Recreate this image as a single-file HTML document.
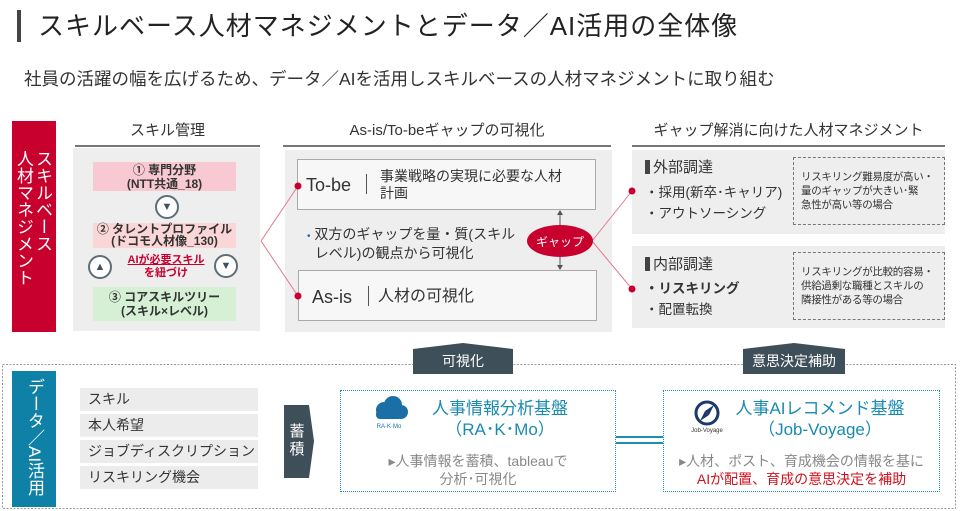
<!DOCTYPE html>
<html><head><meta charset="utf-8"><style>
*{margin:0;padding:0;box-sizing:border-box}
body{width:962px;height:511px;background:#fff;position:relative;overflow:hidden;font-family:"Liberation Sans","Noto Sans CJK JP",sans-serif;color:#333}
.a{position:absolute}
.c{text-align:center}
.hd{font-size:15px;color:#333;text-align:center;line-height:18px}
.hl{height:2px;background:#777}
.gb{background:#eeeeee}
.pk{background:#f9c9d3;font-size:12px;line-height:14px;text-align:center;color:#333;font-weight:bold}
.circ{width:24px;height:24px;border-radius:50%;border:2px solid #5d6d78;background:#fff;display:flex;align-items:center;justify-content:center;font-size:11px;color:#3e5360}
.wb{background:#f7f7f7;border:1.5px solid #aaa}
.dash{border:1.5px dashed #777;font-size:10.5px;line-height:14px;color:#333;padding:12px 0 0 7px;white-space:nowrap;letter-spacing:-0.3px}
.strip{background:#ececec;font-size:14px;line-height:22px;padding-left:8px;color:#333}
.bb{border:1.5px dotted #1d8fb4}
</style></head><body>
<div class="a" style="left:17px;top:10px;width:4px;height:32px;background:#444"></div>
<div class="a" style="left:38px;top:10px;font-size:26px;line-height:32px;letter-spacing:1px;color:#222">スキルベース人材マネジメントとデータ／AI活用の全体像</div>
<div class="a" style="left:24px;top:68px;font-size:17.5px;line-height:22px;color:#333">社員の活躍の幅を広げるため、データ／AIを活用しスキルベースの人材マネジメントに取り組む</div>

<div class="a" style="left:12px;top:121px;width:44px;height:211px;background:#c8002e"></div>
<div class="a" style="left:12px;top:150px;width:44px;height:170px;color:#fff;font-size:17px;line-height:19px;writing-mode:vertical-rl;padding-right:4px">スキルベース<br>人材マネジメント</div>

<div class="a hd" style="left:75px;top:122px;width:185px">スキル管理</div>
<div class="a hl" style="left:75px;top:145px;width:185px"></div>
<div class="a gb" style="left:73px;top:148px;width:187px;height:183px"></div>
<div class="a pk" style="left:93px;top:162px;width:143px;height:29px;padding-top:1px">① 専門分野<br>(NTT共通_18)</div>
<div class="a circ" style="left:155px;top:195px">▼</div>
<div class="a pk" style="left:93px;top:223px;width:143px;height:25px;background:#fbd6d6;line-height:12px">② タレントプロファイル<br>(ドコモ人材像_130)</div>
<div class="a circ" style="left:88px;top:255px">▲</div>
<div class="a circ" style="left:214px;top:254px">▼</div>
<div class="a c" style="left:118px;top:254px;width:96px;font-size:11px;line-height:13px;color:#c8002e;font-weight:bold"><u>AIが必要スキル</u><br>を紐づけ</div>
<div class="a pk" style="left:93px;top:287px;width:143px;height:34px;background:#d6f0d6;padding-top:3px">③ コアスキルツリー<br>(スキル×レベル)</div>

<div class="a hd" style="left:283px;top:122px;width:328px">As-is/To-beギャップの可視化</div>
<div class="a hl" style="left:283px;top:145px;width:328px"></div>
<div class="a gb" style="left:285px;top:150px;width:327px;height:182px"></div>
<div class="a wb" style="left:297px;top:159px;width:299px;height:51px"></div>
<div class="a" style="left:306px;top:175px;font-size:18px;line-height:20px;color:#333">To-be</div>
<div class="a" style="left:366px;top:174px;width:1px;height:20px;background:#555"></div>
<div class="a" style="left:380px;top:168px;font-size:14px;line-height:17px;color:#333">事業戦略の実現に必要な人材<br>計画</div>
<div class="a" style="left:307px;top:226px;font-size:14px;line-height:17px;color:#333"><span style="color:#1d6fb4;font-size:10px">•</span> 双方のギャップを量・質(スキル<br>&nbsp;&nbsp;レベル)の観点から可視化</div>
<div class="a wb" style="left:298px;top:270px;width:299px;height:51px"></div>
<div class="a" style="left:312px;top:287px;font-size:18px;line-height:20px;color:#333">As-is</div>
<div class="a" style="left:368px;top:286px;width:1px;height:20px;background:#555"></div>
<div class="a" style="left:378px;top:288px;font-size:16px;line-height:18px;color:#333">人材の可視化</div>

<div class="a hd" style="left:632px;top:122px;width:313px">ギャップ解消に向けた人材マネジメント</div>
<div class="a hl" style="left:632px;top:145px;width:313px"></div>
<div class="a gb" style="left:632px;top:150px;width:313px;height:84px"></div>
<div class="a gb" style="left:632px;top:246px;width:313px;height:82px"></div>
<div class="a" style="left:645px;top:158px;font-size:15px;line-height:20px;color:#333"><span style="display:inline-block;width:5px;height:14px;background:#444;vertical-align:-2px;margin-right:3px"></span>外部調達</div>
<div class="a" style="left:645px;top:182px;font-size:13.5px;line-height:21px;color:#333">・採用(新卒･キャリア)<br>・アウトソーシング</div>
<div class="a dash" style="left:793px;top:157px;width:152px;height:68px">リスキリング難易度が高い・<br>量のギャップが大きい･緊<br>急性が高い等の場合</div>
<div class="a" style="left:645px;top:255px;font-size:15px;line-height:20px;color:#333"><span style="display:inline-block;width:5px;height:14px;background:#444;vertical-align:-2px;margin-right:3px"></span>内部調達</div>
<div class="a" style="left:645px;top:278px;font-size:13.5px;line-height:21px;color:#333"><b>・リスキリング</b><br>・配置転換</div>
<div class="a dash" style="left:793px;top:252px;width:152px;height:68px">リスキリングが比較的容易・<br>供給過剰な職種とスキルの<br>隣接性がある等の場合</div>

<svg class="a" style="left:0;top:0" width="962" height="511">
<g stroke="#e07a90" stroke-width="1" fill="none">
<line x1="261" y1="241" x2="298" y2="186"/><line x1="261" y1="241" x2="298" y2="296"/>
<line x1="592" y1="241" x2="632" y2="191"/><line x1="592" y1="241" x2="632" y2="289"/>
</g>
<line x1="560" y1="214" x2="560" y2="266" stroke="#555" stroke-width="1"/>
<polygon points="557,215 563,215 560,210" fill="#555"/><polygon points="557,265 563,265 560,270" fill="#555"/>
<circle cx="298" cy="186" r="3.5" fill="#c8002e"/><circle cx="298" cy="296" r="3.5" fill="#c8002e"/>
<circle cx="632" cy="191" r="3.5" fill="#c8002e"/><circle cx="632" cy="289" r="3.5" fill="#c8002e"/>
<ellipse cx="560" cy="241" rx="33" ry="16" fill="#c8002e"/>
<text x="560" y="246" fill="#fff" font-size="12" text-anchor="middle" font-family="Liberation Sans,Noto Sans CJK JP,sans-serif">ギャップ</text>
<rect x="2.5" y="364.5" width="953" height="144" fill="none" stroke="#999" stroke-dasharray="2,1.5"/>
<polygon points="413,374 413,349 463,343 513,349 513,374" fill="#3f4f5a"/>
<polygon points="743,374 743,349 794,343 845,349 845,374" fill="#3f4f5a"/>
<text x="463" y="366" fill="#fff" font-size="14" text-anchor="middle" font-family="Liberation Sans,Noto Sans CJK JP,sans-serif">可視化</text>
<text x="794" y="366" fill="#fff" font-size="14" text-anchor="middle" font-family="Liberation Sans,Noto Sans CJK JP,sans-serif">意思決定補助</text>
<polygon points="284,405 309,405 314,441 309,478 284,478" fill="#3f4f5a"/>
<text x="297" y="436" fill="#fff" font-size="15" text-anchor="middle" font-family="Liberation Sans,Noto Sans CJK JP,sans-serif">蓄</text>
<text x="297" y="454" fill="#fff" font-size="15" text-anchor="middle" font-family="Liberation Sans,Noto Sans CJK JP,sans-serif">積</text>
<line x1="616" y1="437" x2="663" y2="437" stroke="#1d8fb4" stroke-width="2"/>
<line x1="616" y1="443" x2="663" y2="443" stroke="#1d8fb4" stroke-width="2"/>
<g fill="#1a6fa6"><circle cx="384" cy="410" r="8"/><circle cx="393" cy="405" r="9"/><circle cx="401" cy="412" r="7"/><rect x="376" y="410" width="26" height="9" rx="4"/></g>
<text x="389" y="428" fill="#1a6fa6" font-size="6" text-anchor="middle" font-family="Liberation Sans,sans-serif">RA·K·Mo</text>
<circle cx="707" cy="413" r="11" fill="none" stroke="#1a3a6a" stroke-width="3"/>
<polygon points="714,405 705,411 709,415" fill="#1a3a6a"/><polygon points="700,421 705,411 709,415" fill="#1a3a6a"/>
<text x="707" y="432" fill="#333" font-size="6" text-anchor="middle" font-family="Liberation Sans,sans-serif">Job-Voyage</text>
</svg>

<div class="a" style="left:12px;top:371px;width:44px;height:136px;background:#0f81a6"></div>
<div class="a" style="left:21px;top:378px;height:125px;color:#fff;font-size:17px;line-height:26px;writing-mode:vertical-rl">データ／AI活用</div>
<div class="a strip" style="left:80px;top:388px;width:178px;height:23px">スキル</div>
<div class="a strip" style="left:80px;top:414px;width:178px;height:23px">本人希望</div>
<div class="a strip" style="left:80px;top:440px;width:178px;height:23px">ジョブディスクリプション</div>
<div class="a strip" style="left:80px;top:466px;width:178px;height:23px">リスキリング機会</div>

<div class="a bb" style="left:340px;top:390px;width:276px;height:102px"></div>
<div class="a c" style="left:400px;top:398px;width:200px;font-size:17px;line-height:21px;color:#1a8bb0">人事情報分析基盤<br>（RA･K･Mo）</div>
<div class="a c" style="left:345px;top:452px;width:266px;font-size:14px;line-height:18px;color:#888">▸人事情報を蓄積、tableauで<br>分析･可視化</div>

<div class="a bb" style="left:663px;top:390px;width:277px;height:102px"></div>
<div class="a c" style="left:725px;top:398px;width:190px;font-size:17px;line-height:21px;color:#1a8bb0">人事AIレコメンド基盤<br>（Job-Voyage）</div>
<div class="a c" style="left:668px;top:452px;width:267px;font-size:14px;line-height:18px;color:#888">▸人材、ポスト、育成機会の情報を基に<br><span style="color:#d0101e">AIが配置、育成の意思決定を補助</span></div>
</body></html>
